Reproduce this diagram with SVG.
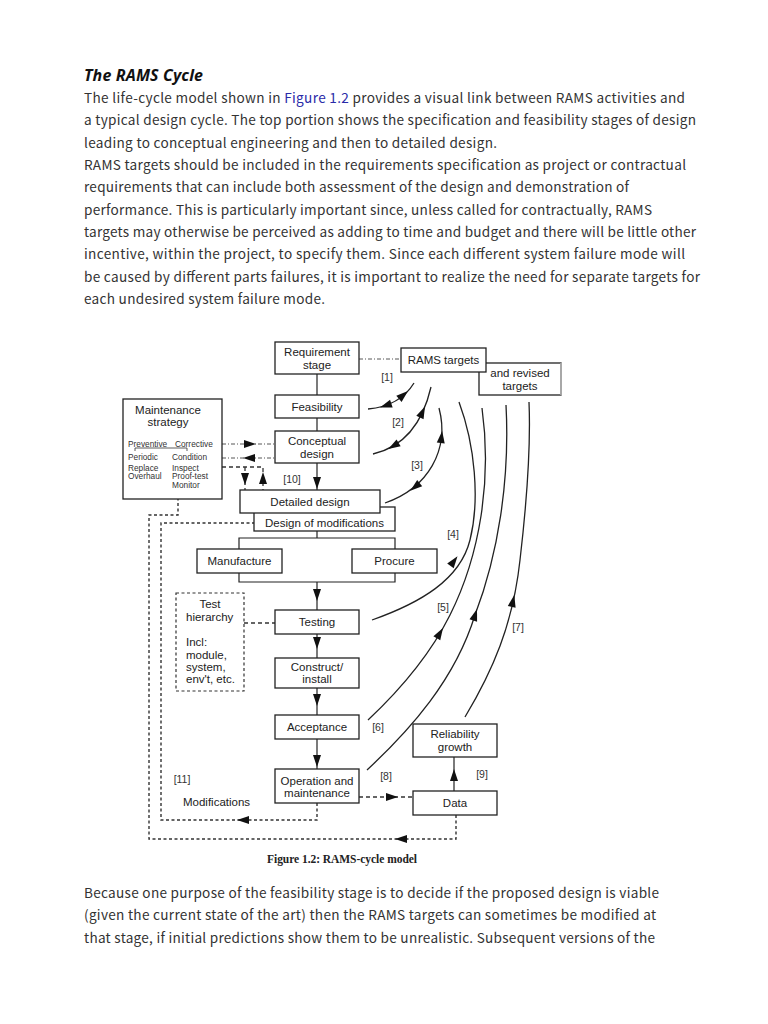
<svg xmlns="http://www.w3.org/2000/svg" xmlns:xlink="http://www.w3.org/1999/xlink" width="768" height="1024" viewBox="0 0 768 1024">
<style>
.body{font-family:"Noto Sans CJK JP","Noto Sans",sans-serif;font-size:13.6px;fill:#333}
.title{font-family:"Noto Sans","Noto Sans CJK JP",sans-serif;font-size:16px;font-weight:bold;font-style:italic;fill:#111}
.link{fill:#2a2aa8}
.box{fill:#fff;stroke:#222;stroke-width:1.3}
.lbl{font-family:"Liberation Sans",Arial,sans-serif;font-size:11.5px;fill:#222;text-anchor:middle}
.sm{font-family:"Liberation Sans",Arial,sans-serif;font-size:8.3px;fill:#333}
.num{font-family:"Liberation Sans",Arial,sans-serif;font-size:10.5px;fill:#333;text-anchor:middle}
.ln{fill:none;stroke:#222;stroke-width:1.2}
.cv{fill:none;stroke:#222;stroke-width:1.3}
.dd{fill:none;stroke:#444;stroke-width:0.9;stroke-dasharray:4 2 1 2}
.ds{fill:none;stroke:#333;stroke-width:1.3;stroke-dasharray:4 3}
.dt{fill:none;stroke:#333;stroke-width:1.4;stroke-dasharray:3 2.5}
.cap{font-family:"Liberation Serif","Times New Roman",serif;font-size:11.5px;font-weight:bold;fill:#222}
</style>
<defs>
<path id="ah" d="M0,0 L-12,-4 L-12,4 Z" fill="#111"/>
</defs>
<rect width="768" height="1024" fill="#fff"/>

<g id="text-top">
<text class="title" x="84" y="81" textLength="119">The RAMS Cycle</text>
<text class="body" x="84" y="103" textLength="601">The life-cycle model shown in <tspan class="link">Figure 1.2</tspan> provides a visual link between RAMS activities and</text>
<text class="body" x="84" y="125" textLength="612">a typical design cycle. The top portion shows the specification and feasibility stages of design</text>
<text class="body" x="84" y="148" textLength="413">leading to conceptual engineering and then to detailed design.</text>
<text class="body" x="84" y="170" textLength="602">RAMS targets should be included in the requirements specification as project or contractual</text>
<text class="body" x="84" y="192" textLength="545">requirements that can include both assessment of the design and demonstration of</text>
<text class="body" x="84" y="215" textLength="568">performance. This is particularly important since, unless called for contractually, RAMS</text>
<text class="body" x="84" y="237" textLength="612">targets may otherwise be perceived as adding to time and budget and there will be little other</text>
<text class="body" x="84" y="259" textLength="601">incentive, within the project, to specify them. Since each different system failure mode will</text>
<text class="body" x="84" y="282" textLength="616">be caused by different parts failures, it is important to realize the need for separate targets for</text>
<text class="body" x="84" y="304" textLength="241">each undesired system failure mode.</text>
</g>

<g id="connectors">
<line class="ln" x1="317" y1="374" x2="317" y2="395"/>
<line class="ln" x1="317" y1="418" x2="317" y2="431"/>
<line class="ln" x1="317" y1="463" x2="317" y2="490"/>
<use href="#ah" transform="translate(317,489) rotate(90)"/>
<line class="ln" x1="317" y1="531" x2="317" y2="538"/>
<polyline class="ln" points="239,549 239,538 395,538 395,549"/>
<polyline class="ln" points="239,573 239,582 395,582 395,573"/>
<line class="ln" x1="317" y1="582" x2="317" y2="610"/>
<use href="#ah" transform="translate(317,601) rotate(90)"/>
<line class="ln" x1="317" y1="634" x2="317" y2="658"/>
<use href="#ah" transform="translate(317,649) rotate(90)"/>
<line class="ln" x1="317" y1="688" x2="317" y2="715"/>
<use href="#ah" transform="translate(317,706) rotate(90)"/>
<line class="ln" x1="317" y1="739" x2="317" y2="769"/>
<use href="#ah" transform="translate(317,767) rotate(90)"/>
<line class="ln" x1="454" y1="791" x2="454" y2="757"/>
<use href="#ah" transform="translate(454,769) rotate(-90)"/>

<line class="dd" x1="359" y1="359" x2="401" y2="359"/>
<line class="dd" x1="222" y1="444" x2="275" y2="444"/>
<use href="#ah" transform="translate(256,444)"/>
<line class="dd" x1="222" y1="458" x2="275" y2="458"/>
<use href="#ah" transform="translate(243,458) rotate(180)"/>
<polyline class="ds" points="222,467 263,467 263,490"/>
<line class="ds" x1="245" y1="467" x2="245" y2="490"/>
<use href="#ah" transform="translate(245,485) rotate(90)"/>
<use href="#ah" transform="translate(263,472) rotate(-90)"/>
<line class="ds" x1="244" y1="623" x2="275" y2="623"/>
<line class="ds" x1="359" y1="797" x2="413" y2="797"/>
<use href="#ah" transform="translate(398,797)"/>
<polyline class="dt" points="317,803 317,820 161,820 161,523 254,523"/>
<use href="#ah" transform="translate(237,820) rotate(180)"/>
<polyline class="dt" points="456,815 456,839 149,839 149,515 178,515 178,499"/>
<use href="#ah" transform="translate(395,839) rotate(180)"/>

<path class="cv" d="M368,409 Q400,406 414,383"/>
<use href="#ah" transform="translate(380,407.5) rotate(161)"/>
<use href="#ah" transform="translate(408,391) rotate(-41)"/>
<path class="cv" d="M373,454 Q418,443.5 431,387"/>
<use href="#ah" transform="translate(388.3,449) rotate(149)"/>
<use href="#ah" transform="translate(425,406.6) rotate(-65)"/>
<path class="cv" d="M385,503 C428,488 450,450 439,408"/>
<use href="#ah" transform="translate(410.3,490.7) rotate(141.5)"/>
<use href="#ah" transform="translate(442.2,431) rotate(-83)"/>
<path class="cv" d="M372,620 C420,603 460,580 470,540 C480,500 475,445 459,402"/>
<use href="#ah" transform="translate(457.5,556.2) rotate(-54)"/>
<path class="cv" d="M368,720 C400,690 430,655 450,615 C480,555 492,480 482,408"/>
<use href="#ah" transform="translate(443,628) rotate(-59)"/>
<path class="cv" d="M367,770 C410,730 455,680 475,615 C498,555 510,480 506,405"/>
<use href="#ah" transform="translate(477,609) rotate(-72)"/>
<path class="cv" d="M465,717 C492,672 513,625 520,560 C527,500 531,450 529,402"/>
<use href="#ah" transform="translate(514.3,595.1) rotate(-77.5)"/>
</g>

<g id="labels">
<text class="num" x="387" y="381">[1]</text>
<text class="num" x="398" y="426">[2]</text>
<text class="num" x="417" y="469">[3]</text>
<text class="num" x="453" y="538">[4]</text>
<text class="num" x="443" y="611">[5]</text>
<text class="num" x="378" y="731">[6]</text>
<text class="num" x="518" y="631">[7]</text>
<text class="num" x="386" y="780">[8]</text>
<text class="num" x="482" y="778">[9]</text>
<text class="num" x="292" y="483">[10]</text>
<text class="num" x="182" y="783">[11]</text>
<text class="lbl" x="183" y="806" style="text-anchor:start">Modifications</text>
</g>

<g id="n-revised"><rect class="box" x="479" y="363" width="82" height="32"/><line x1="561" y1="363" x2="561" y2="395" stroke="#bbb" stroke-width="1.5"/>
<text class="lbl" x="520" y="377">and revised</text><text class="lbl" x="520" y="390">targets</text></g>
<g id="n-rams"><rect class="box" x="401" y="348" width="85" height="24"/><text class="lbl" x="443.5" y="364">RAMS targets</text></g>
<g id="n-req"><rect class="box" x="275" y="342" width="84" height="32"/><text class="lbl" x="317" y="356">Requirement</text><text class="lbl" x="317" y="369">stage</text></g>
<g id="n-feas"><rect class="box" x="275" y="395" width="84" height="23"/><text class="lbl" x="317" y="411">Feasibility</text></g>
<g id="n-concept"><rect class="box" x="275" y="431" width="84" height="32"/><text class="lbl" x="317" y="445">Conceptual</text><text class="lbl" x="317" y="458">design</text></g>
<g id="n-dom"><rect class="box" x="254" y="507" width="141" height="24"/><text class="lbl" x="324.5" y="527">Design of modifications</text></g>
<g id="n-detailed"><rect class="box" x="240" y="490" width="140" height="23"/><text class="lbl" x="310" y="506">Detailed design</text></g>
<g id="n-manufacture"><rect class="box" x="197" y="549" width="85" height="24"/><text class="lbl" x="239.5" y="565">Manufacture</text></g>
<g id="n-procure"><rect class="box" x="352" y="549" width="85" height="24"/><text class="lbl" x="394.5" y="565">Procure</text></g>
<g id="n-testing"><rect class="box" x="275" y="610" width="84" height="24"/><text class="lbl" x="317" y="626">Testing</text></g>
<g id="n-construct"><rect class="box" x="275" y="658" width="84" height="30"/><text class="lbl" x="317" y="671">Construct/</text><text class="lbl" x="317" y="683">install</text></g>
<g id="n-acceptance"><rect class="box" x="275" y="715" width="84" height="24"/><text class="lbl" x="317" y="731">Acceptance</text></g>
<g id="n-operation"><rect class="box" x="275" y="769" width="84" height="34"/><text class="lbl" x="317" y="785">Operation and</text><text class="lbl" x="317" y="797">maintenance</text></g>
<g id="n-reliability"><rect class="box" x="413" y="724" width="84" height="33"/><text class="lbl" x="455" y="738">Reliability</text><text class="lbl" x="455" y="751">growth</text></g>
<g id="n-data"><rect class="box" x="413" y="791" width="84" height="24"/><text class="lbl" x="455" y="807">Data</text></g>
<g id="n-test-hierarchy"><rect x="176" y="593" width="68" height="98" fill="#fff" stroke="#333" stroke-width="1.2" stroke-dasharray="3 2.5"/>
<text class="lbl" x="210" y="608">Test</text>
<text class="lbl" x="186" y="621" style="text-anchor:start">hierarchy</text>
<text class="lbl" x="186" y="646" style="text-anchor:start">Incl:</text>
<text class="lbl" x="186" y="659" style="text-anchor:start">module,</text>
<text class="lbl" x="186" y="671" style="text-anchor:start">system,</text>
<text class="lbl" x="186" y="683" style="text-anchor:start">env't, etc.</text></g>
<g id="n-maintenance"><rect class="box" x="123" y="399" width="99" height="100"/>
<text class="lbl" x="168" y="414">Maintenance</text><text class="lbl" x="168" y="426">strategy</text>
<polyline points="135,451 135,448 187,448 187,451" fill="none" stroke="#333" stroke-width="0.8"/>
<text class="sm" x="128" y="447">Preventive</text><text class="sm" x="175" y="447">Corrective</text>
<text class="sm" x="128" y="460">Periodic</text><text class="sm" x="172" y="460">Condition</text>
<text class="sm" x="128" y="471">Replace</text><text class="sm" x="172" y="471">Inspect</text>
<text class="sm" x="128" y="479">Overhaul</text><text class="sm" x="172" y="479">Proof-test</text>
<text class="sm" x="172" y="488">Monitor</text></g>

<text class="cap" x="267" y="863" textLength="150">Figure 1.2: RAMS-cycle model</text>

<g id="text-bottom">
<text class="body" x="84" y="898" textLength="575">Because one purpose of the feasibility stage is to decide if the proposed design is viable</text>
<text class="body" x="84" y="920" textLength="572">(given the current state of the art) then the RAMS targets can sometimes be modified at</text>
<text class="body" x="84" y="943" textLength="571">that stage, if initial predictions show them to be unrealistic. Subsequent versions of the</text>
</g>
</svg>
